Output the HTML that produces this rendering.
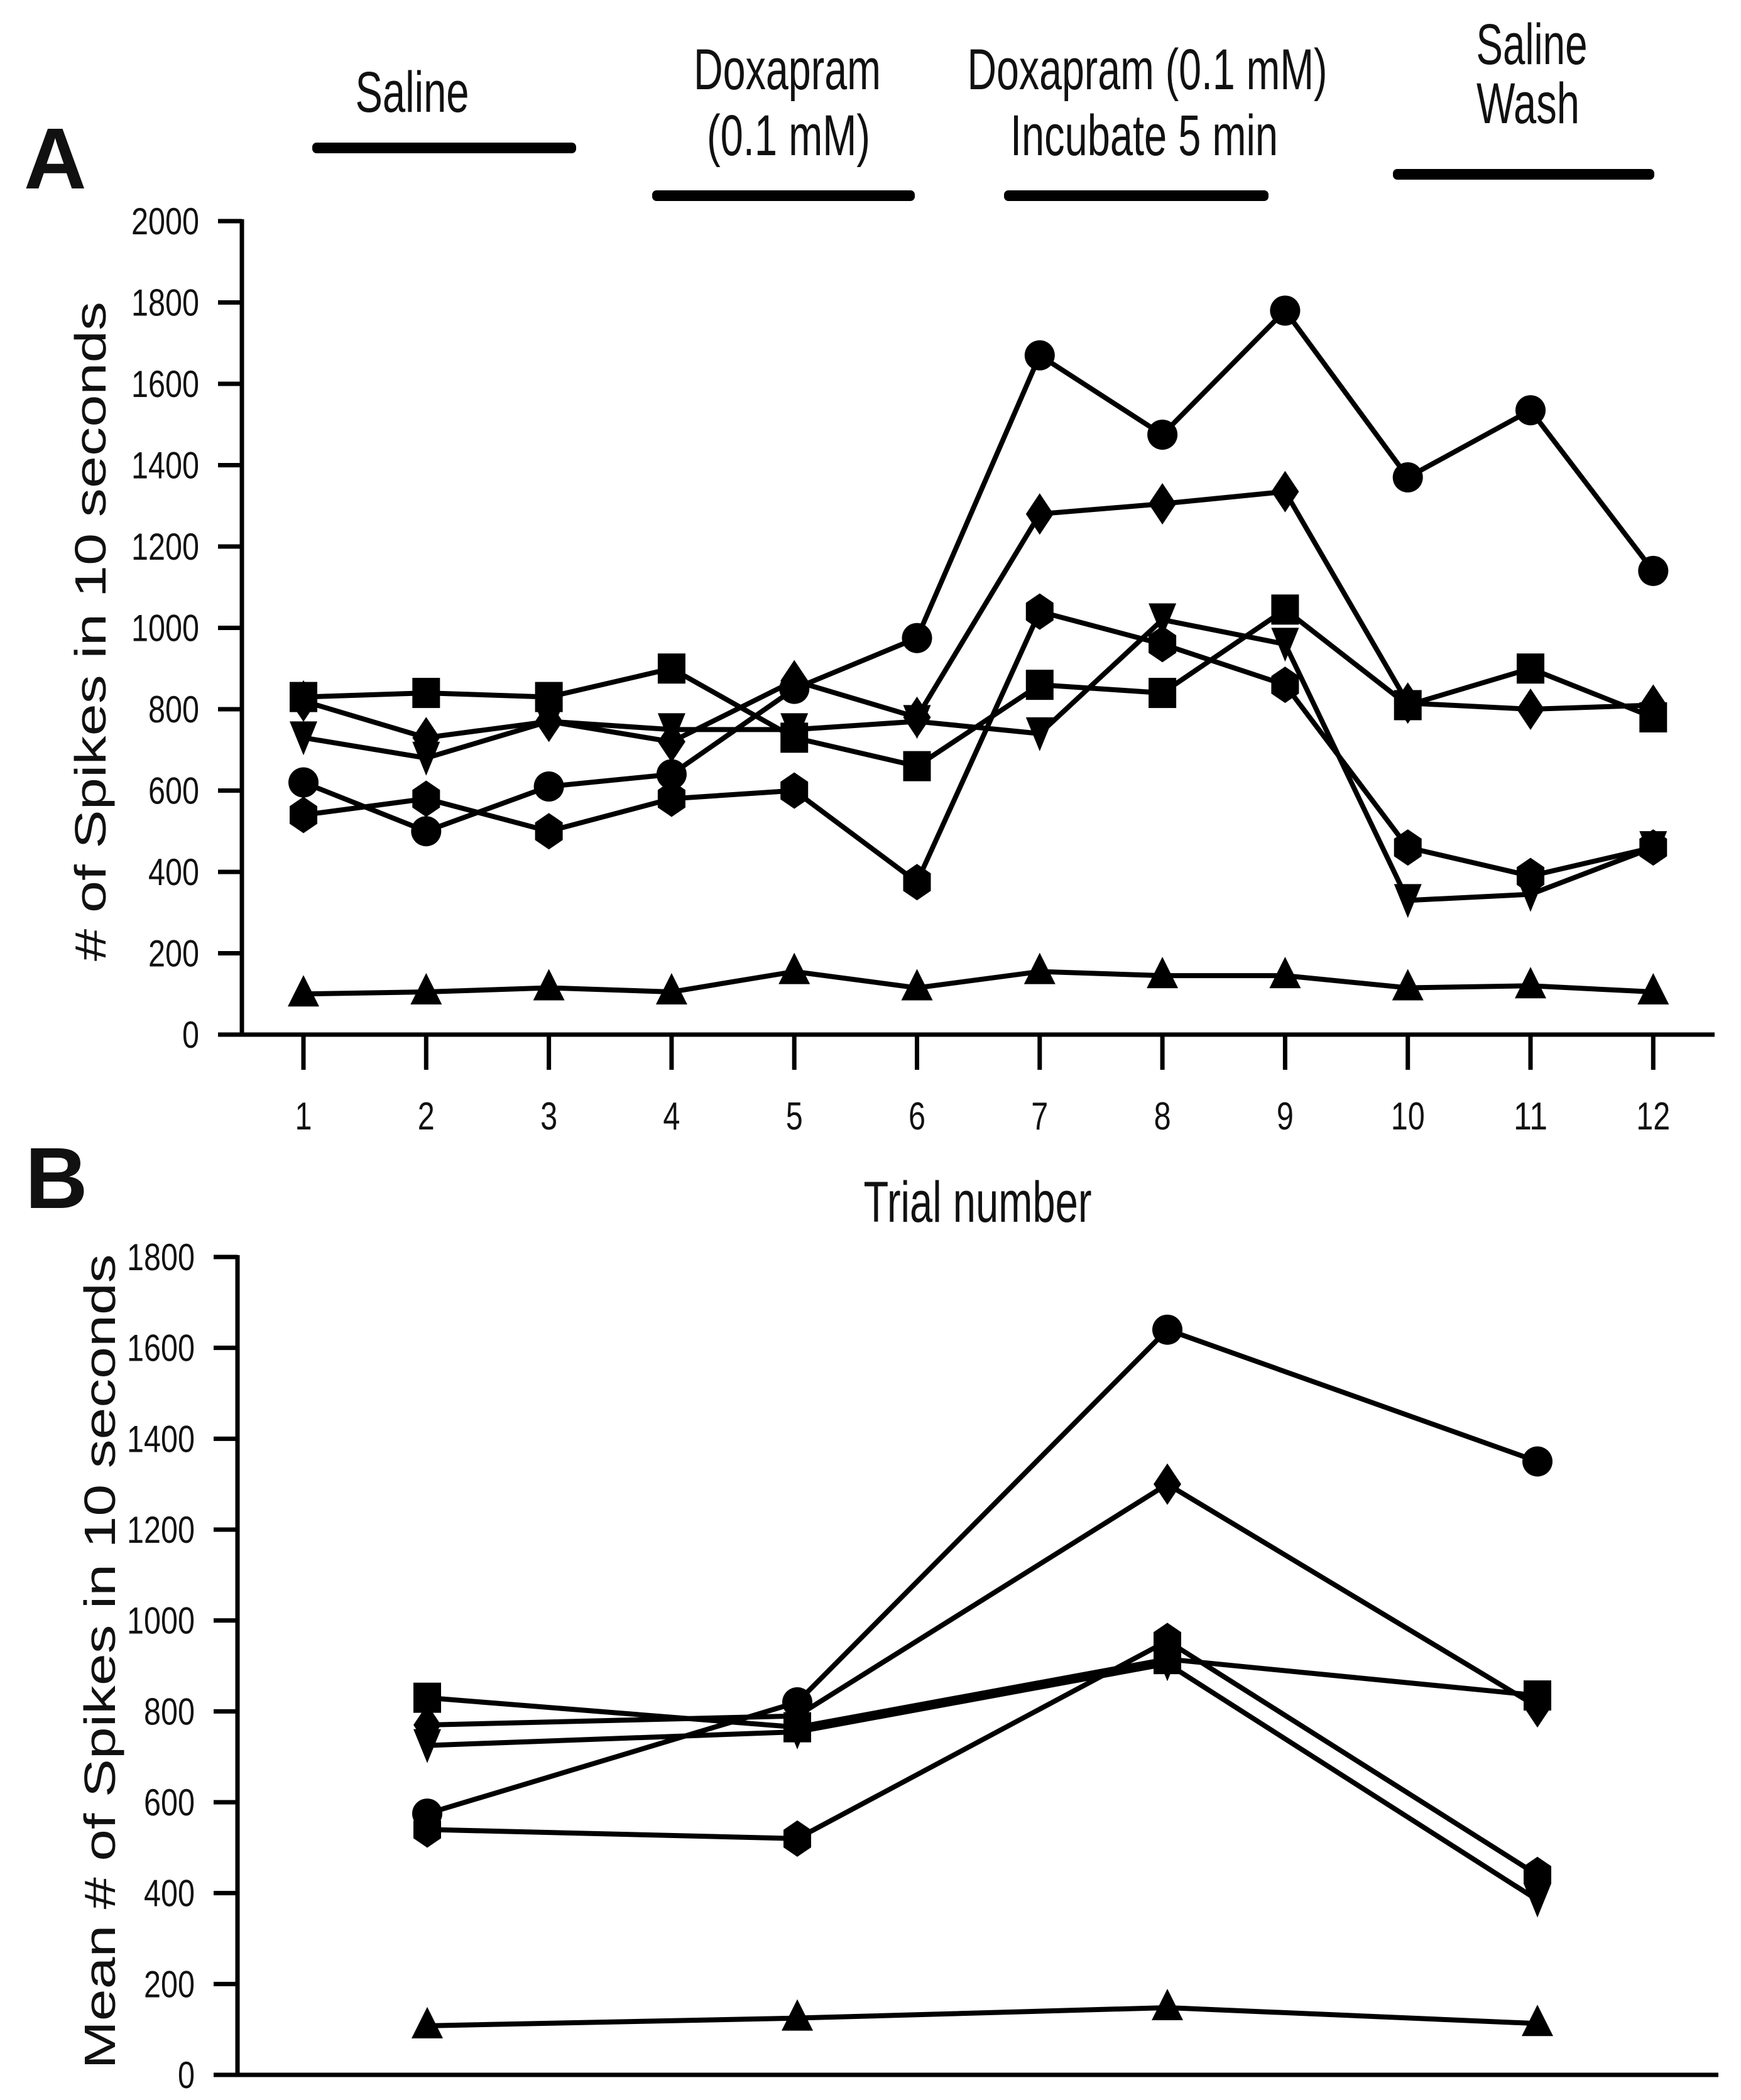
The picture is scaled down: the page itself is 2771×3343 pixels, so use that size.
<!DOCTYPE html>
<html><head><meta charset="utf-8"><style>
html,body{margin:0;padding:0;background:#fff;}
svg{display:block;}
text{font-family:"Liberation Sans Narrow","Liberation Sans",sans-serif;fill:#111;}
</style></head><body>
<svg id="chart" width="2771" height="3343" viewBox="0 0 2771 3343" xmlns="http://www.w3.org/2000/svg">
<g>
<text x="656" y="178" font-size="92" text-anchor="middle" textLength="181" lengthAdjust="spacingAndGlyphs">Saline</text>
<rect x="497" y="227" width="420" height="17" rx="7" fill="#000"/>
<text x="1253" y="142" font-size="92" text-anchor="middle" textLength="298" lengthAdjust="spacingAndGlyphs">Doxapram</text>
<text x="1255" y="247" font-size="92" text-anchor="middle" textLength="260" lengthAdjust="spacingAndGlyphs">(0.1 mM)</text>
<rect x="1038" y="303" width="418" height="17" rx="7" fill="#000"/>
<text x="1826" y="142" font-size="92" text-anchor="middle" textLength="573" lengthAdjust="spacingAndGlyphs">Doxapram (0.1 mM)</text>
<text x="1821" y="247" font-size="92" text-anchor="middle" textLength="426" lengthAdjust="spacingAndGlyphs">Incubate 5 min</text>
<rect x="1598" y="303" width="421" height="17" rx="7" fill="#000"/>
<text x="2438" y="102" font-size="92" text-anchor="middle" textLength="177" lengthAdjust="spacingAndGlyphs">Saline</text>
<text x="2432" y="196" font-size="92" text-anchor="middle" textLength="164" lengthAdjust="spacingAndGlyphs">Wash</text>
<rect x="2217" y="269" width="416" height="17" rx="7" fill="#000"/>
</g>
<text x="38" y="300" font-size="138" font-weight="bold" style="font-family:'Liberation Sans',sans-serif">A</text>
<text x="40" y="1923" font-size="138" font-weight="bold" style="font-family:'Liberation Sans',sans-serif">B</text>
<text x="1556" y="1945" font-size="92" text-anchor="middle" textLength="363" lengthAdjust="spacingAndGlyphs">Trial number</text>
<text transform="translate(168,1005) rotate(-90)" font-size="70" text-anchor="middle" textLength="1050" lengthAdjust="spacingAndGlyphs" style="font-family:'Liberation Sans',sans-serif"># of Spikes in 10 seconds</text>
<text transform="translate(183,2645) rotate(-90)" font-size="70" text-anchor="middle" textLength="1297" lengthAdjust="spacingAndGlyphs" style="font-family:'Liberation Sans',sans-serif">Mean # of Spikes in 10 seconds</text>
<g id="panelA"></g>
<g id="panelB"></g>
</svg>
<script>
const NS = "http://www.w3.org/2000/svg";
// Panel A data
const trialsA = [1,2,3,4,5,6,7,8,9,10,11,12];
const yTicksA = [0,200,400,600,800,1000,1200,1400,1600,1800,2000];
const circleA  = [620,500,610,640,850,975,1670,1475,1780,1370,1535,1140];
const diamondA = [820,730,770,720,870,780,1280,1305,1335,815,800,810];
const squareA  = [830,840,830,900,730,660,860,840,1045,810,900,780];
const downTriA = [730,680,770,750,750,770,740,1020,960,330,345,460];
const hexA     = [540,580,500,580,600,375,1040,960,860,460,390,460];
const triA     = [100,105,115,105,155,115,155,145,145,115,120,105];
// Panel B data
const groupsB = [1,2,3,4];
const yTicksB = [0,200,400,600,800,1000,1200,1400,1600,1800];
const circleB  = [575,820,1640,1350];
const diamondB = [770,790,1300,810];
const squareB  = [830,765,915,835];
const downTriB = [725,755,905,385];
const hexB     = [540,520,955,440];
const triB     = [108,125,148,113];

function el(tag, attrs, parent){
  const e = document.createElementNS(NS, tag);
  for (const k in attrs) e.setAttribute(k, attrs[k]);
  parent.appendChild(e);
  return e;
}
function marker(g, shape, cx, cy){
  let m;
  if (shape === 'circle') m = el('circle', {cx:cx, cy:cy, r:24, fill:'#000'}, g);
  else if (shape === 'hex') m = el('polygon', {points:[[cx,cy-29],[cx+22,cy-14],[cx+22,cy+14],[cx,cy+29],[cx-22,cy+14],[cx-22,cy-14]].map(p=>p.join(',')).join(' '), fill:'#000'}, g);
  else if (shape === 'square') m = el('rect', {x:cx-22, y:cy-24, width:44, height:48, fill:'#000'}, g);
  else if (shape === 'diamond') m = el('polygon', {points:`${cx},${cy-33} ${cx+22},${cy} ${cx},${cy+33} ${cx-22},${cy}`, fill:'#000'}, g);
  else if (shape === 'tri') m = el('polygon', {points:`${cx},${cy-30} ${cx+25},${cy+20} ${cx-25},${cy+20}`, fill:'#000'}, g);
  else m = el('polygon', {points:`${cx-22},${cy-26} ${cx+22},${cy-26} ${cx},${cy+28}`, fill:'#000'}, g);
  
  
}
function drawPanel(g, cats, ticks, series, xf, yf, axis, showX){
  const ya = el('line', {x1:axis.x0, y1:axis.yTop, x2:axis.x0, y2:axis.yBot, stroke:'#000', 'stroke-width':7}, g);
  
  
  const xa = el('line', {x1:axis.x0-38, y1:axis.yBot, x2:axis.xEnd, y2:axis.yBot, stroke:'#000', 'stroke-width':7}, g);
  
  
  ticks.forEach(v => {
    const y = yf(v);
    const t = el('line', {x1:axis.x0-38, y1:y, x2:axis.x0, y2:y, stroke:'#000', 'stroke-width':7}, g);
    
    
    const s = String(v);
    const l = el('text', {x:axis.x0-68, y:y+21, 'font-size':60, 'text-anchor':'end', textLength:s.length*27, lengthAdjust:'spacingAndGlyphs'}, g);
    l.textContent = s;
    
    
  });
  if (showX) cats.forEach(c => {
    const x = xf(c);
    const t = el('line', {x1:x, y1:axis.yBot, x2:x, y2:axis.yBot+56, stroke:'#000', 'stroke-width':7}, g);
    
    
    const s = String(c);
    const l = el('text', {x:x, y:1798, 'font-size':62, 'text-anchor':'middle', textLength:s.length*27, lengthAdjust:'spacingAndGlyphs'}, g);
    l.textContent = s;
    
    
  });
  series.forEach(s => {
    const sg = el('g', {}, g);
    
    
    const pts = s.vals.map((v,i) => xf(cats[i]) + ',' + yf(v)).join(' ');
    const pl = el('polyline', {points:pts, fill:'none', stroke:'#000', 'stroke-width':8, 'stroke-linejoin':'round'}, sg);
    
    
    s.vals.forEach((v,i) => marker(sg, s.shape, xf(cats[i]), yf(v)));
  });
}
const xA = t => 483 + (t-1)*195.3;
const yA = v => 1647 - v*(1647-352)/2000;
drawPanel(document.getElementById('panelA'), trialsA, yTicksA, [
  {name:'series-triangle', shape:'tri', vals:triA},
  {name:'series-hexagon', shape:'hex', vals:hexA},
  {name:'series-down-triangle', shape:'down', vals:downTriA},
  {name:'series-square', shape:'square', vals:squareA},
  {name:'series-diamond', shape:'diamond', vals:diamondA},
  {name:'series-circle', shape:'circle', vals:circleA}
], xA, yA, {x0:385, yTop:349, yBot:1647, xEnd:2729}, true);
const xB = g => 680 + (g-1)*589;
const yB = v => 3303 - v*(3303-2001)/1800;
drawPanel(document.getElementById('panelB'), groupsB, yTicksB, [
  {name:'mean-triangle', shape:'tri', vals:triB},
  {name:'mean-hexagon', shape:'hex', vals:hexB},
  {name:'mean-down-triangle', shape:'down', vals:downTriB},
  {name:'mean-square', shape:'square', vals:squareB},
  {name:'mean-diamond', shape:'diamond', vals:diamondB},
  {name:'mean-circle', shape:'circle', vals:circleB}
], xB, yB, {x0:378, yTop:1998, yBot:3303, xEnd:2735}, false);
</script>
</body></html>
